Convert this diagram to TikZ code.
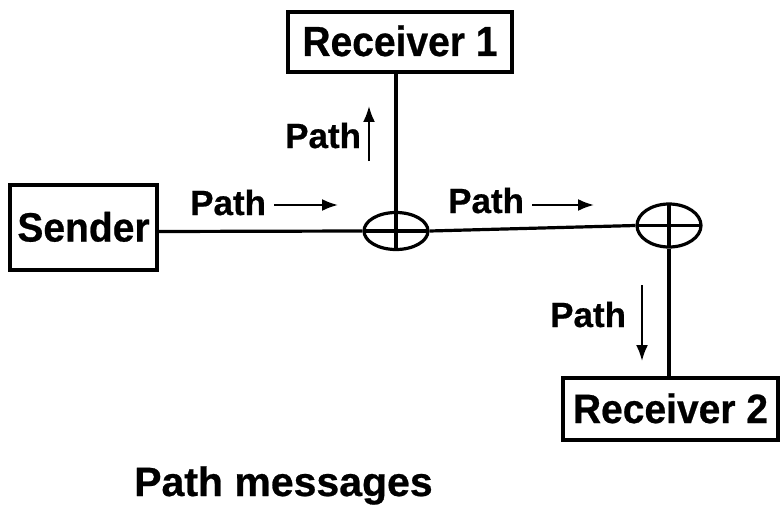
\documentclass[tikz,border=0pt]{standalone}
\usepackage{fontspec}
\setmainfont{Liberation Sans}
\newfontfamily\heavy{Liberation Sans Bold}[FakeBold=0.6]
\usetikzlibrary{shapes.geometric,arrows.meta}
\begin{document}
\begin{tikzpicture}[x=1pt,y=-1pt,
  box/.style={draw,line width=3.4pt,inner sep=0pt,text height=28pt,text depth=0pt,
    font=\fontsize{39}{39}\heavy},
  junction/.style={draw,ellipse,line width=3.2pt,inner sep=0pt,
    path picture={\draw[line width=3.2pt]
      (path picture bounding box.north) -- (path picture bounding box.south)
      (path picture bounding box.west) -- (path picture bounding box.east);}},
  wire/.style={line width=3.2pt},
  lbl/.style={anchor=base west,inner sep=0pt,font=\fontsize{35}{35}\heavy},
  msg/.style={line width=2.2pt,-{Latex[length=16pt,width=12pt]}}]
\useasboundingbox (0,0) rectangle (781,508);

% end points
\node[box,minimum width=224pt,minimum height=60pt] (r1) at (400,42) {\scalebox{1}[1.08]{Receiver 1}};
\node[box,minimum width=147pt,minimum height=85pt] (snd) at (83.5,227.5) {\scalebox{1}[1.05]{Sender}};
\node[box,minimum width=215pt,minimum height=62pt] (r2) at (670.5,409) {\scalebox{1}[1.05]{Receiver 2}};

% branching points
\node[junction,minimum width=64pt,minimum height=37pt] (j1) at (396,231) {};
\node[junction,minimum width=64pt,minimum height=43pt] (j2) at (669,225.5) {};

% links
\draw[wire] (snd.east |- 0,231.5) -- (j1.west);
\draw[wire] (j1.east) -- (j2.west);
\draw[wire] (j1.north) -- (j1.north |- r1.south);
\draw[wire] (j2.south) -- (j2.south |- r2.north);

% message labels and directions
\node[lbl] (p1) at (190,215) {Path};
\coordinate (a1s) at (274,205); \coordinate (a1e) at (338,205);
\draw[msg] (a1s) -- (a1e);

\node[lbl] (p2) at (448,213) {Path};
\coordinate (a2s) at (532,205); \coordinate (a2e) at (594,205);
\draw[msg] (a2s) -- (a2e);

\node[lbl] (p3) at (285,148) {Path};
\coordinate (a3s) at (369,161); \coordinate (a3e) at (369,106);
\draw[msg] (a3s) -- (a3e);

\node[lbl] (p4) at (550,327) {Path};
\coordinate (a4s) at (642,285); \coordinate (a4e) at (642,361);
\draw[msg] (a4s) -- (a4e);

\node[anchor=base west,inner sep=0pt,font=\fontsize{41}{41}\heavy] (title) at (134,496) {Path messages};
\end{tikzpicture}
\end{document}
